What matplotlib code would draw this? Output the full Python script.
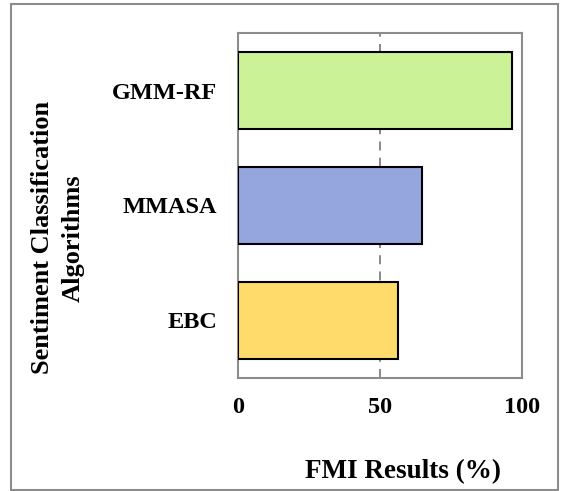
import matplotlib.pyplot as plt
from matplotlib.patches import Rectangle

# data
algorithms = ['EBC', 'MMASA', 'GMM-RF']
fmi_results = [56.5, 64.8, 96.5]
bar_colors = ['#FFDB6B', '#95A5DD', '#CCF298']
x_ticks = [0, 50, 100]

plt.rcParams['font.family'] = ['Liberation Serif', 'DejaVu Serif']
plt.rcParams['font.weight'] = 'bold'

fig = plt.figure(figsize=(5.63, 4.91), dpi=100)
ax = fig.add_axes([0.4227, 0.2308, 0.5045, 0.7014])

ypos = list(range(len(algorithms)))
ax.barh(ypos, fmi_results, height=0.667, color=bar_colors,
        edgecolor='black', linewidth=1.5, zorder=3)

ax.set_xlim(0, 100)
ax.set_ylim(-0.5, 2.5)
ax.set_xticks(x_ticks)
ax.set_xticklabels([str(t) for t in x_ticks])
ax.set_yticks(ypos)
ax.set_yticklabels(algorithms)
ax.tick_params(axis='both', length=0, labelsize=17.5)
ax.tick_params(axis='x', pad=14)
ax.tick_params(axis='y', pad=15)

ax.xaxis.grid(True, linestyle=(0, (5, 4)), color='#808080', linewidth=1.3, zorder=1)
for s in ax.spines.values():
    s.set_color('#8c8c8c')
    s.set_linewidth(1.5)

ax.set_xlabel('FMI Results (%)', fontsize=19.5, fontweight='bold', va='center')
ax.xaxis.set_label_coords(0.581, -0.274)
ax.set_ylabel('Sentiment Classification\nAlgorithms', fontsize=19,
              fontweight='bold', linespacing=1.45, va='center', ha='center')
ax.yaxis.set_label_coords(-0.634, 0.406)

# outer frame around the whole chart
fig.patches.append(Rectangle((11 / 563, 1 - 490 / 491), 547 / 563, 486 / 491,
                             transform=fig.transFigure, fill=False,
                             edgecolor='#8c8c8c', linewidth=1.5))

fig.savefig('out.png', dpi=100)
